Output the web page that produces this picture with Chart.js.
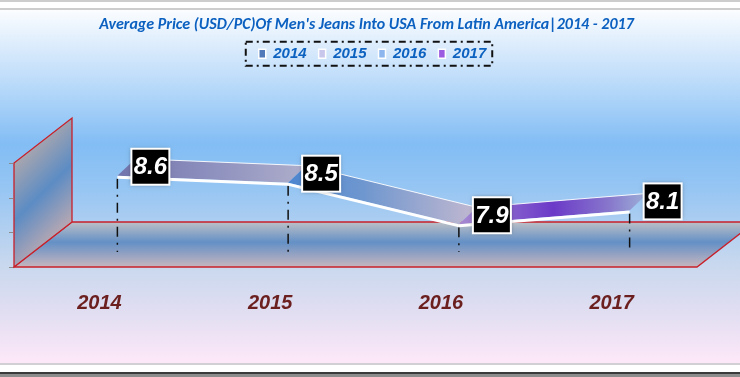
<!DOCTYPE html>
<html lang="en">
<head>
<meta charset="UTF-8" />
<title>Average Price of Men's Jeans</title>
<script src="https://cdn.jsdelivr.net/npm/chart.js"></script>
<style>
  html, body { margin: 0; padding: 0; background: #fff; }
  canvas { display: block; }
</style>
</head>
<body>
<canvas id="priceChart" width="740" height="377"></canvas>
<script>
// data
const years = ['2014', '2015', '2016', '2017'];
const prices = [8.6, 8.5, 7.9, 8.1];
const yTicks = [7.5, 8, 8.5, 9];
const legendColors = ['#4f79b8', '#c9c6ec', '#8db6ee', '#9a5be0'];
const titleText = "Average Price (USD/PC)Of Men's Jeans Into USA From Latin America|2014 - 2017";

// pick a narrow face for the title if there is one
function pickFont(list) {
  const c = document.createElement('canvas').getContext('2d');
  const sample = 'Average Price 2014 mmm';
  c.font = 'bold italic 20px monospace';
  const base = c.measureText(sample).width;
  for (const f of list) {
    c.font = 'bold italic 20px "' + f + '", monospace';
    if (c.measureText(sample).width !== base) return f;
  }
  return 'sans-serif';
}
const narrow = pickFont(['Liberation Sans Narrow', 'Carlito', 'Liberation Sans']);
const sans = 'Liberation Sans';

// scene geometry (front plane = chart area)
const DEPTH = { x: 58, y: -45 };
const RIB = { x: 18, y: -15 };
const RIB_W = { x: 18, y: -17 };
const RED = '#c8202a';
const LEGEND_SHIFT = 17;
const TITLE_SHIFT = 11;

const segColors = [
  [[0, '#7275ac'], [0.5, '#8e90be'], [1, '#aeaecb']],
  [[0, '#4d86d0'], [0.4, '#6f97cf'], [1, '#c2b8d0']],
  [[0, '#a68ad2'], [0.5, '#6b3ac8'], [0.8, '#8878cc'], [1, '#9db2d8']]
];

function shiftDraw(box, dx) {
  const draw = box.draw;
  box.draw = function () {
    this.ctx.save();
    this.ctx.translate(dx, 0);
    draw.call(this);
    this.ctx.restore();
  };
}

let legendExtra = 90;
const legendGap = {
  id: 'legendGap',
  beforeInit(chart) {
    const lg = chart.legend;
    const fit = lg.fit;
    lg.fit = function () {
      fit.call(this);
      this.height += legendExtra;
    };
    shiftDraw(lg, LEGEND_SHIFT);
    shiftDraw(chart.titleBlock, TITLE_SHIFT);
  }
};

const scene3d = {
  id: 'scene3d',
  beforeDraw(chart) {
    const ctx = chart.ctx;
    const w = chart.width, h = chart.height;
    ctx.save();
    ctx.fillStyle = '#ffffff';
    ctx.fillRect(0, 0, w, h);
    ctx.fillStyle = '#cdcdcd';
    ctx.fillRect(0, 0, w, 2);
    ctx.fillRect(0, 8, w, 2);
    const g = ctx.createLinearGradient(0, 10, 0, 363);
    g.addColorStop(0, '#fbfdff');
    g.addColorStop(0.1, '#dcecfc');
    g.addColorStop(0.2, '#bddcfa');
    g.addColorStop(0.38, '#82bdf4');
    g.addColorStop(0.5, '#95c5f3');
    g.addColorStop(0.72, '#c8d8ee');
    g.addColorStop(0.86, '#e2def2');
    g.addColorStop(1, '#fde8f8');
    ctx.fillStyle = g;
    ctx.fillRect(0, 10, w, 353);
    ctx.fillStyle = '#d2d0d4';
    ctx.fillRect(0, 363, w, 2);
    ctx.fillStyle = '#3a3a3a';
    ctx.fillRect(0, 372, w, 2);
    ctx.fillStyle = '#8c8c8c';
    ctx.fillRect(0, 374, w, 3);
    ctx.restore();
  },
  beforeDatasetsDraw(chart) {
    const ctx = chart.ctx;
    const a = chart.chartArea;
    const y = chart.scales.y;
    ctx.save();
    // floor
    const fg = ctx.createLinearGradient(0, a.bottom + DEPTH.y, 0, a.bottom);
    fg.addColorStop(0, '#bcc0c6');
    fg.addColorStop(0.45, '#6490c6');
    fg.addColorStop(1, '#c6b6be');
    ctx.beginPath();
    ctx.moveTo(a.left, a.bottom);
    ctx.lineTo(a.right, a.bottom);
    ctx.lineTo(a.right + DEPTH.x, a.bottom + DEPTH.y);
    ctx.lineTo(a.left + DEPTH.x, a.bottom + DEPTH.y);
    ctx.closePath();
    ctx.fillStyle = fg;
    ctx.fill();
    ctx.strokeStyle = RED;
    ctx.lineWidth = 1.3;
    ctx.stroke();
    // back wall
    const wg = ctx.createLinearGradient(a.left, a.top, a.left + DEPTH.x, a.bottom + DEPTH.y);
    wg.addColorStop(0, '#a9a6ae');
    wg.addColorStop(0.5, '#5c8cc4');
    wg.addColorStop(1, '#b8a8b2');
    ctx.beginPath();
    ctx.moveTo(a.left, a.bottom);
    ctx.lineTo(a.left, a.top);
    ctx.lineTo(a.left + DEPTH.x, a.top + DEPTH.y);
    ctx.lineTo(a.left + DEPTH.x, a.bottom + DEPTH.y);
    ctx.closePath();
    ctx.fillStyle = wg;
    ctx.fill();
    ctx.stroke();
    // value axis tick marks
    ctx.strokeStyle = '#8a8a8a';
    ctx.lineWidth = 1;
    yTicks.forEach(v => {
      const py = Math.round(y.getPixelForValue(v)) + 0.5;
      ctx.beginPath();
      ctx.moveTo(a.left - 5, py);
      ctx.lineTo(a.left - 1, py);
      ctx.stroke();
    });
    ctx.restore();
  },
  afterDatasetsDraw(chart) {
    const ctx = chart.ctx;
    const a = chart.chartArea;
    const pts = chart.getDatasetMeta(0).data.map(p => ({ x: p.x + RIB.x, y: p.y + RIB.y }));
    ctx.save();
    // drop lines
    ctx.strokeStyle = '#111111';
    ctx.lineWidth = 1.5;
    ctx.setLineDash([10, 6, 2, 6]);
    pts.forEach(p => {
      ctx.beginPath();
      ctx.moveTo(p.x, p.y + 3);
      ctx.lineTo(p.x, a.bottom + RIB.y);
      ctx.stroke();
    });
    ctx.setLineDash([]);
    // ribbon
    for (let i = 0; i < pts.length - 1; i++) {
      const p0 = pts[i], p1 = pts[i + 1];
      const g = ctx.createLinearGradient(p0.x, 0, p1.x + RIB_W.x, 0);
      segColors[i].forEach(s => g.addColorStop(s[0], s[1]));
      ctx.beginPath();
      ctx.moveTo(p0.x, p0.y);
      ctx.lineTo(p1.x, p1.y);
      ctx.lineTo(p1.x + RIB_W.x, p1.y + RIB_W.y);
      ctx.lineTo(p0.x + RIB_W.x, p0.y + RIB_W.y);
      ctx.closePath();
      ctx.fillStyle = g;
      ctx.fill();
      ctx.strokeStyle = 'rgba(255,255,255,0.9)';
      ctx.lineWidth = 1;
      ctx.beginPath();
      ctx.moveTo(p0.x + RIB_W.x, p0.y + RIB_W.y);
      ctx.lineTo(p1.x + RIB_W.x, p1.y + RIB_W.y);
      ctx.stroke();
      // thickness face
      ctx.fillStyle = '#ffffff';
      ctx.beginPath();
      ctx.moveTo(p0.x, p0.y);
      ctx.lineTo(p1.x, p1.y);
      ctx.lineTo(p1.x, p1.y + 3);
      ctx.lineTo(p0.x, p0.y + 3);
      ctx.closePath();
      ctx.fill();
    }
    // data labels
    pts.forEach((p, i) => {
      const cx = p.x + 33, cy = p.y - 9;
      ctx.save();
      ctx.shadowColor = 'rgba(0,0,0,0.35)';
      ctx.shadowBlur = 4;
      ctx.fillStyle = '#000000';
      ctx.fillRect(cx - 19, cy - 18, 38, 36);
      ctx.restore();
      ctx.strokeStyle = '#ffffff';
      ctx.lineWidth = 2;
      ctx.strokeRect(cx - 19, cy - 18, 38, 36);
      ctx.fillStyle = '#ffffff';
      ctx.font = 'italic bold 24px "' + sans + '"';
      ctx.textAlign = 'center';
      ctx.textBaseline = 'middle';
      ctx.fillText(String(prices[i]), cx, cy + 1);
    });
    // legend frame
    const boxes = chart.legend.legendHitBoxes;
    if (boxes && boxes.length) {
      const l = Math.min(...boxes.map(b => b.left)) - 13 + LEGEND_SHIFT;
      const r = Math.max(...boxes.map(b => b.left + b.width)) + 6 + LEGEND_SHIFT;
      const t = boxes[0].top + boxes[0].height / 2 - 12;
      ctx.strokeStyle = '#111111';
      ctx.lineWidth = 2;
      ctx.setLineDash([7, 4, 2, 4]);
      ctx.strokeRect(l, t, r - l, 24);
      ctx.setLineDash([]);
    }
    ctx.restore();
  }
};

const ctx = document.getElementById('priceChart').getContext('2d');
const chart = new Chart(ctx, {
  type: 'line',
  data: {
    labels: years,
    datasets: [{
      label: 'Average Price',
      data: prices,
      borderWidth: 0,
      pointRadius: 0,
      showLine: false
    }]
  },
  options: {
    responsive: false,
    animation: false,
    layout: { padding: { left: 14, right: 43, top: 6, bottom: 40 } },
    scales: {
      x: {
        offset: true,
        grid: { display: false, drawTicks: false },
        border: { display: false },
        ticks: {
          color: '#6b1f1f',
          padding: 24,
          font: { family: sans, size: 20, style: 'italic', weight: 'bold' }
        }
      },
      y: {
        display: false,
        min: yTicks[0],
        max: yTicks[yTicks.length - 1],
        ticks: { stepSize: 0.5 }
      }
    },
    plugins: {
      title: {
        display: true,
        text: titleText,
        color: '#0b60c0',
        padding: { top: 9, bottom: 0 },
        font: { family: narrow, size: 16, style: 'italic', weight: 'bold' }
      },
      legend: {
        display: true,
        labels: {
          boxWidth: 7,
          boxHeight: 9,
          padding: 12,
          color: '#0d62c0',
          font: { family: sans, size: 15, style: 'italic', weight: 'bold' },
          generateLabels: () => years.map((yr, i) => ({
            text: yr,
            fillStyle: legendColors[i],
            strokeStyle: '#ffffff',
            lineWidth: 1.5,
            fontColor: '#0d62c0',
            hidden: false,
            index: i,
            datasetIndex: 0
          }))
        }
      },
      tooltip: { enabled: false }
    }
  },
  plugins: [legendGap, scene3d]
});

// pin the chart area to the front plane of the 3D box
const diffTop = 163 - chart.chartArea.top;
const diffBottom = chart.chartArea.bottom - 267;
if (diffTop || diffBottom) {
  legendExtra += diffTop;
  chart.options.layout.padding.bottom += diffBottom;
  chart.update();
}
</script>
</body>
</html>
